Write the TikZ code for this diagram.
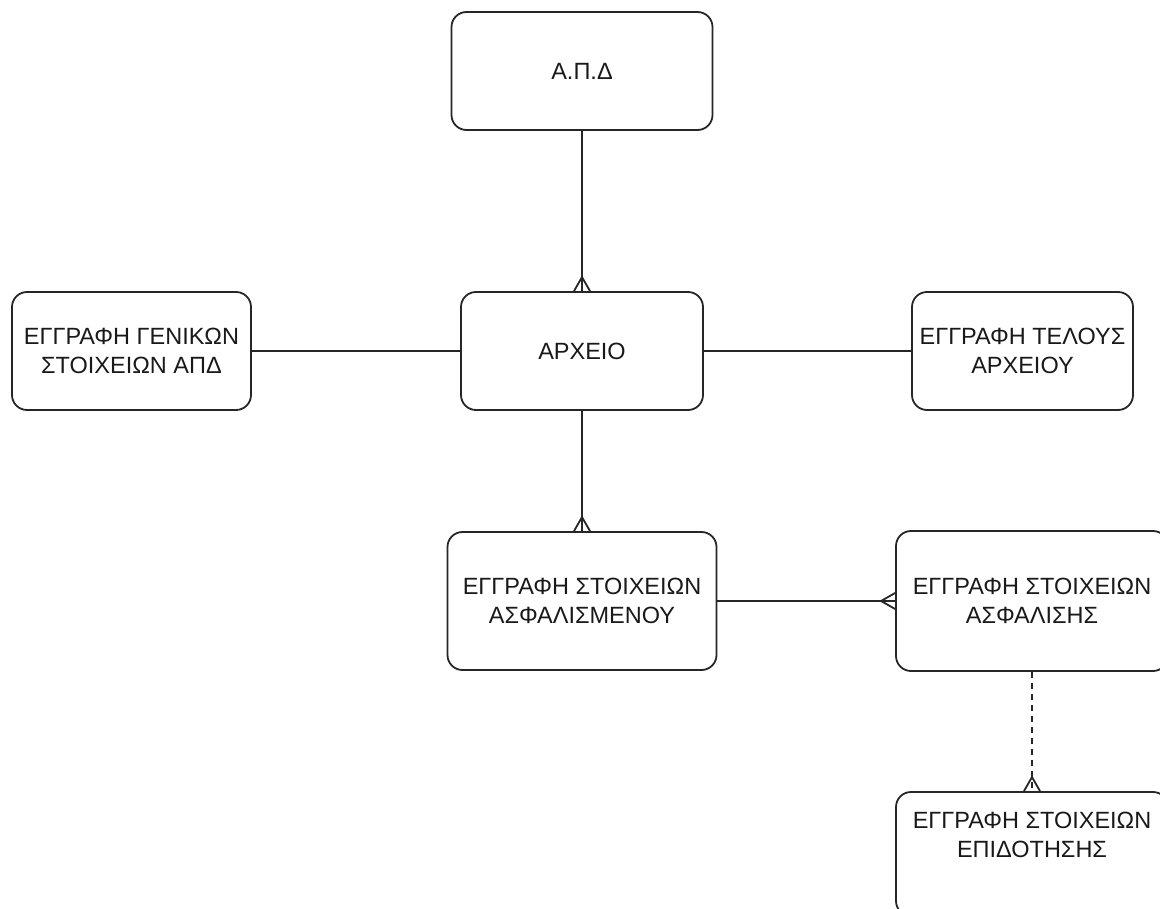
\documentclass[tikz,border=0pt]{standalone}
\usepackage{fontspec}
\setmainfont{Liberation Sans}
\usetikzlibrary{decorations.markings}
\tikzset{
	entity/.style={draw=black!85, rounded corners=15, line width=1.8, align=center, text=black!90, font=\fontsize{23.5}{29}\selectfont},
	link/.style={draw=black!85, line width=1.8},
	crow/.style={postaction={decorate, decoration={markings, mark=at position 1 with {\draw[solid] (-14,0) -- (0,8) (-14,0) -- (0,-8);}}}}
}
\begin{document}
\begin{tikzpicture}[x=1pt, y=-1pt]
			\path[use as bounding box, clip] (0,0) rectangle (1160,909);
			\node[entity, minimum width=261, minimum height=118] (apd) at (582,71) {Α.Π.Δ};
			\node[entity, minimum width=242, minimum height=118] (arxeio) at (582,351) {ΑΡΧΕΙΟ};
			\node[entity, minimum width=239, minimum height=118] (genika) at (131.5,351) {ΕΓΓΡΑΦΗ ΓΕΝΙΚΩΝ\\ΣΤΟΙΧΕΙΩΝ ΑΠΔ};
			\node[entity, minimum width=221, minimum height=118] (telos) at (1022.5,351) {ΕΓΓΡΑΦΗ ΤΕΛΟΥΣ\\ΑΡΧΕΙΟΥ};
			\node[entity, minimum width=269, minimum height=138] (asfalismenos) at (582,601) {ΕΓΓΡΑΦΗ ΣΤΟΙΧΕΙΩΝ\\ΑΣΦΑΛΙΣΜΕΝΟΥ};
			\node[entity, minimum width=272, minimum height=140] (asfalisi) at (1032,601) {ΕΓΓΡΑΦΗ ΣΤΟΙΧΕΙΩΝ\\ΑΣΦΑΛΙΣΗΣ};
			\node[entity, minimum width=272, minimum height=124] (epidotisi) at (1032,854) {};
			\node[entity, draw=none] (epidotisitext) at (1032,835) {ΕΓΓΡΑΦΗ ΣΤΟΙΧΕΙΩΝ\\ΕΠΙΔΟΤΗΣΗΣ};
			\draw[link, crow] (apd.south) -- (arxeio.north);
			\draw[link] (genika.east) -- (arxeio.west);
			\draw[link] (arxeio.east) -- (telos.west);
			\draw[link, crow] (arxeio.south) -- (asfalismenos.north);
			\draw[link, crow] (asfalismenos.east) -- (asfalisi.west);
			\draw[link, crow, dash pattern=on 6pt off 5pt] (asfalisi.south) -- (epidotisi.north);
		\end{tikzpicture}
\end{document}
